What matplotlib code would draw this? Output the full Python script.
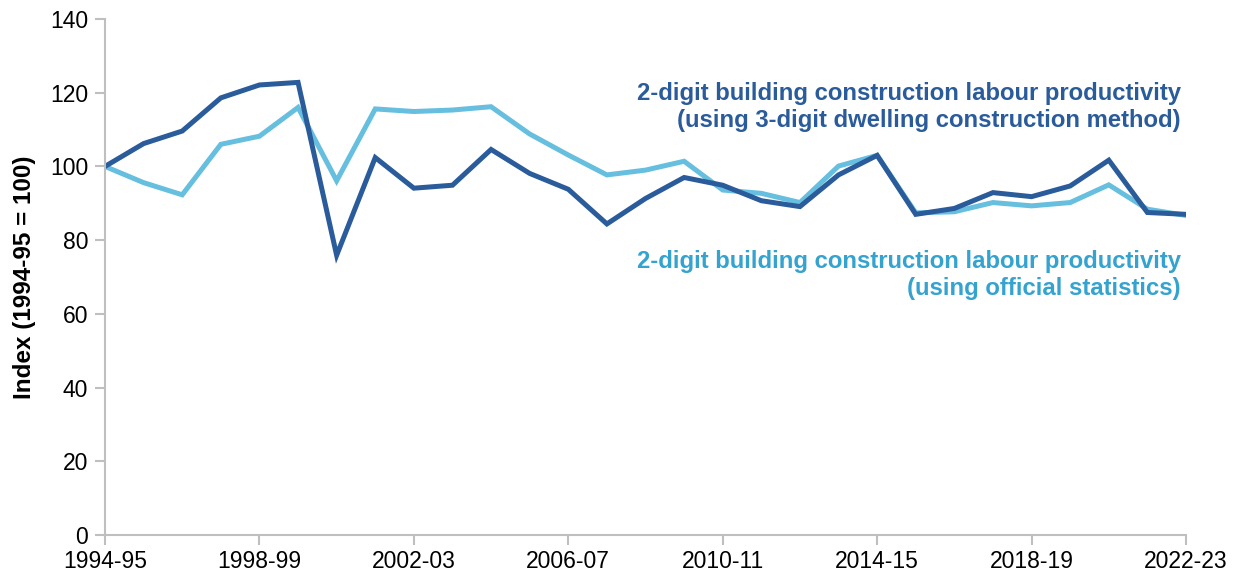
import matplotlib.pyplot as plt
import numpy as np

plt.rcParams['font.family'] = ['Liberation Sans', 'DejaVu Sans']

# Financial years 1994-95 .. 2022-23
years = [f"{y}-{str(y + 1)[-2:]}" for y in range(1994, 2023)]

# 2-digit building construction labour productivity (3-digit dwelling method)
dwelling_method = [100.0, 106.2, 109.6, 118.6, 122.1, 122.8, 75.9, 102.4, 94.1, 94.9,
                   104.6, 98.1, 93.8, 84.4, 91.3, 97.0, 94.9, 90.7, 89.1, 97.7,
                   103.0, 87.0, 88.6, 92.9, 91.8, 94.7, 101.7, 87.5, 87.0]

# 2-digit building construction labour productivity (official statistics)
official = [100.0, 95.6, 92.3, 106.0, 108.2, 116.0, 96.1, 115.6, 114.9, 115.3,
            116.2, 108.8, 103.1, 97.7, 99.0, 101.4, 93.6, 92.7, 90.2, 100.1,
            103.0, 87.4, 87.7, 90.2, 89.3, 90.2, 95.0, 88.4, 86.7]

dark = '#2A5B9B'
light = '#66BFDF'

fig = plt.figure(figsize=(12.39, 5.76), dpi=100)
ax = fig.add_axes([105 / 1239, 41 / 576, (1186 - 105) / 1239, (535 - 19) / 576])

x = np.arange(len(years))
ax.plot(x, official, color=light, lw=3.6, solid_joinstyle='miter')
ax.plot(x, dwelling_method, color=dark, lw=3.6, solid_joinstyle='miter')

ax.set_xlim(0, len(years) - 1)
ax.set_ylim(0, 140)
ax.set_yticks(range(0, 141, 20))
ax.set_xticks(x[::4])
ax.set_xticklabels(years[::4])

for side in ['top', 'right']:
    ax.spines[side].set_visible(False)
for side in ['left', 'bottom']:
    ax.spines[side].set_color('#BFBFBF')
    ax.spines[side].set_linewidth(1.5)
ax.tick_params(axis='both', colors='#BFBFBF', labelcolor='black', labelsize=16.5,
               length=7, width=1.5)
ax.tick_params(axis='x', pad=4)
ax.tick_params(axis='y', pad=5)

ax.set_ylabel('Index (1994-95 = 100)', fontsize=17.5, fontweight='bold', labelpad=10)

ax.text(0.995, 0.829, '2-digit building construction labour productivity\n'
        '(using 3-digit dwelling construction method)',
        transform=ax.transAxes, ha='right', va='center', color=dark,
        fontsize=17.2, fontweight='bold', linespacing=1.25)
ax.text(0.995, 0.504, '2-digit building construction labour productivity\n'
        '(using official statistics)',
        transform=ax.transAxes, ha='right', va='center', color='#35A3CF',
        fontsize=17.2, fontweight='bold', linespacing=1.25)

fig.savefig('out.png', dpi=100)
